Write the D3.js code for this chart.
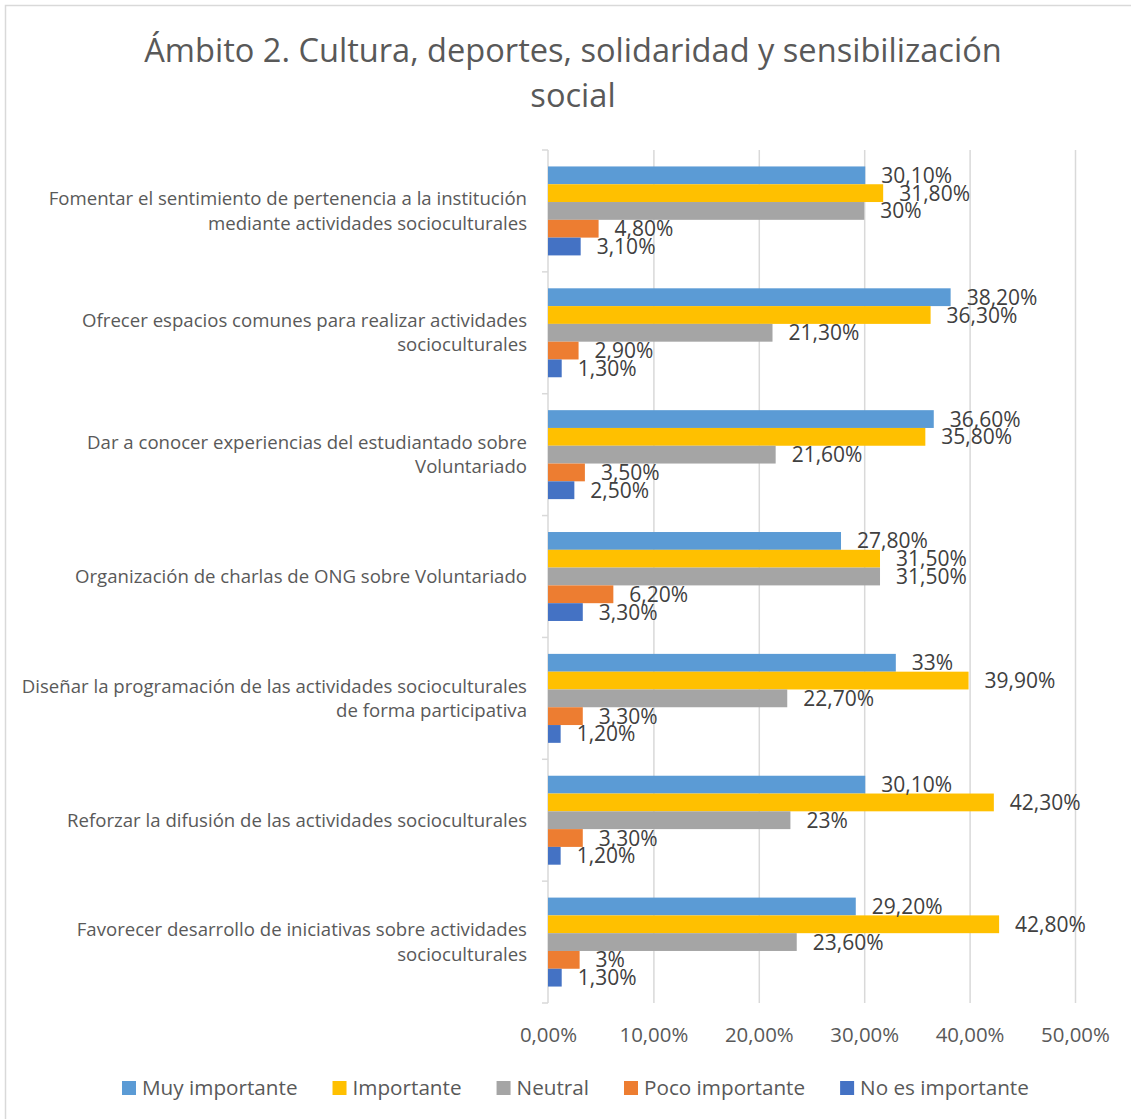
<!DOCTYPE html>
<html>
<head>
<meta charset="utf-8">
<script src="https://cdn.jsdelivr.net/npm/d3@7"></script>
<style>
  html, body { margin: 0; padding: 0; background: #ffffff; }
  svg { display: block; font-family: "Open Sans", "Liberation Sans", sans-serif; }
</style>
</head>
<body>
<svg id="chart" width="1131" height="1119"></svg>
<script>
// ---- Data ----
const titleLines = ["Ámbito 2. Cultura, deportes, solidaridad y sensibilización", "social"];

const categories = [
  ["Fomentar el sentimiento de pertenencia a la institución", "mediante actividades socioculturales"],
  ["Ofrecer espacios comunes para realizar actividades", "socioculturales"],
  ["Dar a conocer experiencias del estudiantado sobre", "Voluntariado"],
  ["Organización de charlas de ONG sobre Voluntariado"],
  ["Diseñar la programación de las actividades socioculturales", "de forma participativa"],
  ["Reforzar la difusión de las actividades socioculturales"],
  ["Favorecer desarrollo de iniciativas sobre actividades", "socioculturales"]
];

const seriesNames = ["Muy importante", "Importante", "Neutral", "Poco importante", "No es importante"];

const muyImportante   = [30.1, 38.2, 36.6, 27.8, 33.0, 30.1, 29.2];
const importante      = [31.8, 36.3, 35.8, 31.5, 39.9, 42.3, 42.8];
const neutral         = [30.0, 21.3, 21.6, 31.5, 22.7, 23.0, 23.6];
const pocoImportante  = [4.8, 2.9, 3.5, 6.2, 3.3, 3.3, 3.0];
const noEsImportante  = [3.1, 1.3, 2.5, 3.3, 1.2, 1.2, 1.3];

const xTicks = [0, 10, 20, 30, 40, 50];

const colors = ["#5B9BD5", "#FFC000", "#A5A5A5", "#ED7D31", "#4472C4"];

// ---- Build ----
const seriesValues = [muyImportante, importante, neutral, pocoImportante, noEsImportante];
const catIdx = categories.map((c, i) => i);

const svg = d3.select("#chart");
const W = 1131, H = 1119;
const plot = { left: 548, right: 1075, top: 150, bottom: 1003 };

const textColor = "#595959";
const gridColor = "#D9D9D9";

// chart border
svg.append("rect")
  .attr("x", 5.5).attr("y", 5.5)
  .attr("width", W + 20).attr("height", H + 20)
  .attr("fill", "#fff")
  .attr("stroke", gridColor).attr("stroke-width", 1.5);

// Title
svg.append("g").selectAll("text").data(titleLines).join("text")
  .attr("x", 573)
  .attr("y", (d, i) => 62 + i * 45)
  .attr("text-anchor", "middle")
  .attr("font-size", 32.6)
  .attr("fill", textColor)
  .text(d => d);

// Scales
const x = d3.scaleLinear().domain([0, 50]).range([plot.left, plot.right]);
const y = d3.scaleBand().domain(catIdx).range([plot.top, plot.bottom])
  .paddingInner(0.27).paddingOuter(0.135);
const ySub = d3.scaleBand().domain(d3.range(seriesNames.length)).range([0, y.bandwidth()]);

const locale = d3.formatLocale({ decimal: ",", thousands: ".", grouping: [3], currency: ["", "€"] });
const tickFmt = v => locale.format(".2f")(v) + "%";
const labelFmt = v => Number.isInteger(v) ? locale.format("d")(v) + "%" : locale.format(".2f")(v) + "%";

// Gridlines
const gridAxis = d3.axisBottom(x).tickValues(xTicks.slice(1))
  .tickSize(-(plot.bottom - plot.top)).tickFormat("");
const gg = svg.append("g").attr("transform", `translate(0,${plot.bottom})`).call(gridAxis);
gg.select(".domain").remove();
gg.selectAll("line").attr("stroke", gridColor).attr("stroke-width", 1.5);

// X tick labels
const xAxis = d3.axisBottom(x).tickValues(xTicks).tickSize(0).tickPadding(0).tickFormat(tickFmt);
const xa = svg.append("g").attr("transform", `translate(0,1042)`).call(xAxis);
xa.select(".domain").remove();
xa.selectAll("text")
  .attr("dy", 0).attr("y", 0)
  .attr("font-family", "Open Sans, Liberation Sans, sans-serif")
  .attr("font-size", 20.4).attr("fill", textColor);

// Category axis line and boundary ticks
const step = y.step();
const boundaries = d3.range(categories.length + 1).map(i => plot.top + i * step);
svg.append("line")
  .attr("x1", plot.left).attr("x2", plot.left)
  .attr("y1", plot.top).attr("y2", plot.bottom)
  .attr("stroke", gridColor).attr("stroke-width", 1.5);
svg.append("g").selectAll("line").data(boundaries).join("line")
  .attr("x1", plot.left - 6).attr("x2", plot.left)
  .attr("y1", d => d).attr("y2", d => d)
  .attr("stroke", gridColor).attr("stroke-width", 1.5);

// Category labels
const catG = svg.append("g");
categories.forEach((lines, i) => {
  const cy = y(i) + y.bandwidth() / 2;
  const lh = 24.4;
  catG.append("g").selectAll("text").data(lines).join("text")
    .attr("x", 527)
    .attr("y", (d, j) => cy + (j - (lines.length - 1) / 2) * lh)
    .attr("dy", "0.35em")
    .attr("text-anchor", "end")
    .attr("font-size", 18.6)
    .attr("fill", textColor)
    .text(d => d);
});

// Bars
const barData = [];
seriesValues.forEach((vals, s) => vals.forEach((v, c) => barData.push({ s, c, v })));

svg.append("g").selectAll("rect").data(barData).join("rect")
  .attr("x", x(0))
  .attr("y", d => y(d.c) + ySub(d.s))
  .attr("width", d => x(d.v) - x(0))
  .attr("height", ySub.bandwidth())
  .attr("fill", d => colors[d.s]);

// Data labels
svg.append("g").selectAll("text").data(barData).join("text")
  .attr("x", d => x(d.v) + 16)
  .attr("y", d => y(d.c) + ySub(d.s) + ySub.bandwidth() / 2)
  .attr("dy", "0.36em")
  .attr("font-size", 21)
  .attr("fill", "#404040")
  .text(d => labelFmt(d.v));

// Legend
const legend = svg.append("g").attr("transform", "translate(122,1088)");
let lx = 0;
seriesNames.forEach((name, i) => {
  const g = legend.append("g").attr("transform", `translate(${lx},0)`);
  g.append("rect").attr("x", 0).attr("y", -7).attr("width", 14).attr("height", 14).attr("fill", colors[i]);
  const t = g.append("text").attr("x", 20).attr("y", 0).attr("dy", "0.35em")
    .attr("font-size", 20.7).attr("fill", textColor).text(name);
  lx += 20 + t.node().getComputedTextLength() + 35;
});
</script>
</body>
</html>
